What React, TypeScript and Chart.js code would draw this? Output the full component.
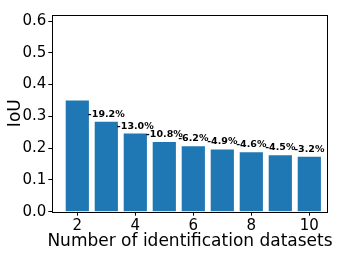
import React, { useEffect, useRef } from 'react';
import { Chart, registerables } from 'chart.js';
Chart.register(...registerables);

const datasetCounts = [2, 3, 4, 5, 6, 7, 8, 9, 10];
const iouValues = [0.35, 0.283, 0.246, 0.219, 0.206, 0.196, 0.187, 0.178, 0.173];
const dropLabels = ['', '-19.2%', '-13.0%', '-10.8%', '-6.2%', '-4.9%', '-4.6%', '-4.5%', '-3.2%'];
const xTicks = [2, 4, 6, 8, 10];
const yTicks = [0, 0.1, 0.2, 0.3, 0.4, 0.5, 0.6];
const xTitle = 'Number of identification datasets';
const yTitle = 'IoU';

const FONT = "'DejaVu Sans', sans-serif";

export default function App() {
  const ref = useRef<HTMLCanvasElement>(null);
  useEffect(() => {
    document.body.style.margin = '0';
    const canvas = ref.current!;
    const framePlugin = {
      id: 'frame',
      afterDraw(chart: any) {
        const { ctx, chartArea: a } = chart;
        ctx.save();
        ctx.strokeStyle = '#000';
        ctx.lineWidth = 1;
        ctx.strokeRect(Math.round(a.left) + 0.5, Math.round(a.top) + 0.5, Math.round(a.right - a.left), Math.round(a.bottom - a.top));
        ctx.font = `17px ${FONT}`;
        ctx.fillStyle = '#000';
        ctx.textAlign = 'center';
        ctx.textBaseline = 'alphabetic';
        ctx.fillText(xTitle, (a.left + a.right) / 2, 246);
        ctx.restore();
      },
    };
    const labelPlugin = {
      id: 'dropLabels',
      afterDatasetsDraw(chart: any) {
        const { ctx } = chart;
        const meta = chart.getDatasetMeta(0);
        const ys = chart.scales.y;
        ctx.save();
        ctx.font = `bold 9.5px ${FONT}`;
        ctx.fillStyle = '#000';
        ctx.textAlign = 'center';
        ctx.textBaseline = 'alphabetic';
        dropLabels.forEach((t, i) => {
          if (!t) return;
          const el = meta.data[i];
          ctx.fillText(t, el.x, ys.getPixelForValue(iouValues[i]) - 5);
        });
        ctx.restore();
      },
    };
    const chart = new Chart(canvas, {
      type: 'bar',
      data: {
        datasets: [
          {
            data: datasetCounts.map((x, i) => ({ x, y: iouValues[i] })),
            backgroundColor: '#1f77b4',
            borderColor: '#ffffff',
            borderWidth: 0,
            categoryPercentage: 1,
            barPercentage: 0.8,
          },
        ],
      },
      options: {
        animation: false,
        responsive: false,
        devicePixelRatio: 1,
        layout: { padding: { top: 14.7, right: 11.3, left: 0, bottom: 0 } },
        plugins: { legend: { display: false }, tooltip: { enabled: false } },
        scales: {
          x: {
            type: 'linear',
            offset: false,
            min: 1.138,
            max: 10.634,
            afterBuildTicks: (s: any) => {
              s.ticks = xTicks.map((v) => ({ value: v }));
            },
            afterFit: (s: any) => {
              s.height = 44.3;
            },
            grid: { offset: false, display: true, drawOnChartArea: false, drawTicks: true, tickLength: 4, color: '#000' },
            border: { display: false },
            ticks: { font: { family: FONT, size: 15 }, color: '#000', padding: 1, callback: (v: any) => String(v) },
            title: { display: false },
          },
          y: {
            min: 0,
            max: 0.62,
            afterBuildTicks: (s: any) => {
              s.ticks = yTicks.map((v) => ({ value: v }));
            },
            afterFit: (s: any) => {
              s.width = 52.3;
            },
            grid: { display: true, drawOnChartArea: false, drawTicks: true, tickLength: 4, color: '#000' },
            border: { display: false },
            ticks: { font: { family: FONT, size: 15 }, color: '#000', padding: 2, callback: (v: any) => Number(v).toFixed(1) },
            title: { display: true, text: yTitle, font: { family: FONT, size: 17 }, color: '#000', padding: { top: 5, bottom: 0 } },
          },
        },
      },
      plugins: [framePlugin, labelPlugin],
    });
    return () => chart.destroy();
  }, []);
  return <canvas ref={ref} width={339} height={256} style={{ display: 'block' }} />;
}
